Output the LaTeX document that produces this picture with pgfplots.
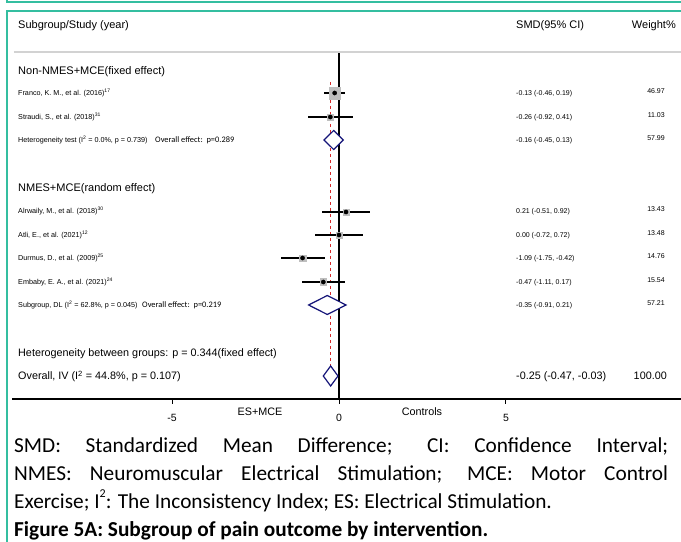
\documentclass[border=0pt]{standalone}
\usepackage{pgfplots}
\pgfplotsset{compat=1.18}
\usepackage{pgfplotstable}
\usepackage{fontspec}
\setmainfont{Liberation Sans}
\newfontfamily\calibri{Carlito}
\definecolor{frameteal}{RGB}{52,190,160}
\definecolor{sqgray}{RGB}{190,190,190}
\definecolor{dnavy}{RGB}{20,20,120}
\definecolor{dred}{RGB}{215,40,40}

% y = 399 - pixel row ; x = SMD
\pgfplotstableread{
y    smd    lo     hi     w
306  -0.13  -0.46  0.19   46.97
282  -0.26  -0.92  0.41   11.03
187   0.21  -0.51  0.92   13.43
164   0.00  -0.72  0.72   13.48
141  -1.09  -1.75  -0.42  14.76
117  -0.47  -1.11  0.17   15.54
}\studies

\newcommand{\hd}{\fontsize{11}{13}\selectfont}
\newcommand{\sm}{\fontsize{7.2}{9}\selectfont}
\newcommand{\nm}{\fontsize{7}{9}\selectfont}
\newcommand{\bt}{\fontsize{10.8}{13}\selectfont}
\newcommand{\capf}{\calibri\fontsize{21.3}{28}\selectfont}

\begin{document}
\begin{tikzpicture}
\begin{axis}[
  scale only axis, width=669pt, height=347pt,
  xmin=-9.790, xmax=10.240, ymin=0, ymax=347,
  axis x line*=bottom, axis y line=none,
  xtick={-5,0,5}, xticklabels={-5,0,5},
  tick align=outside, major tick length=5pt,
  tick style={black, line width=1pt},
  x axis line style={black, line width=1.5pt},
  xticklabel style={font=\fontsize{10.5}{12}\selectfont, anchor=base, yshift=-18pt},
  ytick=\empty, clip=false,
]
% zero line
\addplot[black, line width=1.1pt] coordinates {(0,0) (0,347)};
% overall effect line
\addplot[dred, line width=0.8pt, dash pattern=on 3pt off 3pt] coordinates {(-0.25,317) (-0.25,12)};
% weight squares
\addplot[only marks, mark=square*, scatter,
  scatter/use mapped color={draw=sqgray, fill=sqgray},
  visualization depends on={0.85*sqrt(\thisrow{w}) \as \msz},
  scatter/@pre marker code/.append style={/tikz/mark size=\msz}]
  table[x=smd, y=y] {\studies};
% CIs and point estimates
\addplot[black, only marks, mark=*, mark size=2.1pt,
  error bars/.cd, x dir=both, x explicit, error mark=none,
  error bar style={line width=1.3pt, black}]
  table[x=smd, y=y, x error minus expr=\thisrow{smd}-\thisrow{lo},
        x error plus expr=\thisrow{hi}-\thisrow{smd}] {\studies};
% diamonds
\addplot[dnavy, line width=1.2pt, fill=white] coordinates {(-0.45,259) (-0.16,268.5) (0.13,259) (-0.16,249.5)} -- cycle;
\addplot[dnavy, line width=1.2pt, fill=white] coordinates {(-0.91,94) (-0.35,103.5) (0.21,94) (-0.35,84.5)} -- cycle;
\addplot[dnavy, line width=1.2pt, fill=white] coordinates {(-0.47,23) (-0.25,33) (-0.03,23) (-0.25,13)} -- cycle;

% frame and header rule
\draw[frameteal, line width=2pt] (axis cs:-9.940,399) -- (axis cs:-9.940,397) -- (axis cs:10.240,397);
\draw[frameteal, line width=2pt] (axis cs:10.240,388) -- (axis cs:-9.940,388) -- (axis cs:-9.940,-143);
\draw[gray!35, line width=2pt] (axis cs:-9.731,347) -- (axis cs:10.240,347);

% header
\node[anchor=base west, inner sep=0, font=\hd] at (axis cs:-9.611,371) {Subgroup/Study (year)};
\node[anchor=base west, inner sep=0, font=\hd] at (axis cs:5.299,371) {SMD(95\% CI)};
\node[anchor=base east, inner sep=0, font=\hd] at (axis cs:10.090,371) {Weight\%};

% group 1
\node[anchor=base west, inner sep=0, font=\hd] at (axis cs:-9.611,324) {Non-NMES+MCE(fixed effect)};
\node[anchor=base west, inner sep=0, font=\sm] at (axis cs:-9.611,303.4) {Franco, K. M., et al. (2016)\textsuperscript{17}};
\node[anchor=base west, inner sep=0, font=\sm] at (axis cs:-9.611,279.4) {Straudi, S., et al. (2018)\textsuperscript{31}};
\node[anchor=base west, inner sep=0, font=\sm] at (axis cs:-9.611,256.4) {Heterogeneity test (I\textsuperscript{2} = 0.0\%, p = 0.739)};
\node[anchor=base west, inner sep=0, font=\calibri\fontsize{8.4}{10}\selectfont] at (axis cs:-5.509,256.4) {Overall effect:~~p=0.289};

% group 2
\node[anchor=base west, inner sep=0, font=\hd] at (axis cs:-9.611,207) {NMES+MCE(random effect)};
\node[anchor=base west, inner sep=0, font=\sm] at (axis cs:-9.611,185.4) {Alrwaily, M., et al. (2018)\textsuperscript{30}};
\node[anchor=base west, inner sep=0, font=\sm] at (axis cs:-9.611,161.4) {Atli, E., et al. (2021)\textsuperscript{12}};
\node[anchor=base west, inner sep=0, font=\sm] at (axis cs:-9.611,138.4) {Durmus, D., et al. (2009)\textsuperscript{25}};
\node[anchor=base west, inner sep=0, font=\sm] at (axis cs:-9.611,114.4) {Embaby, E. A., et al. (2021)\textsuperscript{24}};
\node[anchor=base west, inner sep=0, font=\sm] at (axis cs:-9.611,91.4) {Subgroup, DL (I\textsuperscript{2} = 62.8\%, p = 0.045)};
\node[anchor=base west, inner sep=0, font=\calibri\fontsize{8.4}{10}\selectfont] at (axis cs:-5.898,91.4) {Overall effect:~~p=0.219};

% bottom rows
\node[anchor=base west, inner sep=0, font=\bt] at (axis cs:-9.611,42) {Heterogeneity between groups: p = 0.344(fixed effect)};
\node[anchor=base west, inner sep=0, font=\bt] at (axis cs:-9.611,19) {Overall, IV (I\textsuperscript{2} = 44.8\%, p = 0.107)};

% SMD column
\node[anchor=base west, inner sep=0, font=\nm] at (axis cs:5.299,303.4) {-0.13 (-0.46, 0.19)};
\node[anchor=base west, inner sep=0, font=\nm] at (axis cs:5.299,279.4) {-0.26 (-0.92, 0.41)};
\node[anchor=base west, inner sep=0, font=\nm] at (axis cs:5.299,256.4) {-0.16 (-0.45, 0.13)};
\node[anchor=base west, inner sep=0, font=\nm] at (axis cs:5.299,185.4) {0.21 (-0.51, 0.92)};
\node[anchor=base west, inner sep=0, font=\nm] at (axis cs:5.299,161.4) {0.00 (-0.72, 0.72)};
\node[anchor=base west, inner sep=0, font=\nm] at (axis cs:5.299,138.4) {-1.09 (-1.75, -0.42)};
\node[anchor=base west, inner sep=0, font=\nm] at (axis cs:5.299,114.4) {-0.47 (-1.11, 0.17)};
\node[anchor=base west, inner sep=0, font=\nm] at (axis cs:5.299,91.4) {-0.35 (-0.91, 0.21)};
\node[anchor=base west, inner sep=0, font=\bt] at (axis cs:5.299,19) {-0.25 (-0.47, -0.03)};

% weight column
\node[anchor=base east, inner sep=0, font=\nm] at (axis cs:9.760,305.4) {46.97};
\node[anchor=base east, inner sep=0, font=\nm] at (axis cs:9.760,281.4) {11.03};
\node[anchor=base east, inner sep=0, font=\nm] at (axis cs:9.760,258.4) {57.99};
\node[anchor=base east, inner sep=0, font=\nm] at (axis cs:9.760,187.4) {13.43};
\node[anchor=base east, inner sep=0, font=\nm] at (axis cs:9.760,163.4) {13.48};
\node[anchor=base east, inner sep=0, font=\nm] at (axis cs:9.760,140.4) {14.76};
\node[anchor=base east, inner sep=0, font=\nm] at (axis cs:9.760,116.4) {15.54};
\node[anchor=base east, inner sep=0, font=\nm] at (axis cs:9.760,93.4) {57.21};
\node[anchor=base east, inner sep=0, font=\bt] at (axis cs:9.820,19) {100.00};

% axis side labels
\node[anchor=base, inner sep=0, font=\bt] at (axis cs:-2.365,-17) {ES+MCE};
\node[anchor=base, inner sep=0, font=\bt] at (axis cs:2.485,-17) {Controls};

% caption
\node[anchor=base west, inner sep=0, font=\capf] at (axis cs:-9.731,-54) {\makebox[654pt][s]{SMD: Standardized Mean Difference; CI: Confidence Interval;}};
\node[anchor=base west, inner sep=0, font=\capf] at (axis cs:-9.731,-82) {\makebox[654pt][s]{NMES: Neuromuscular Electrical Stimulation; MCE: Motor Control}};
\node[anchor=base west, inner sep=0, font=\capf] at (axis cs:-9.731,-110) {Exercise; I\raisebox{0.55em}{\fontsize{12}{12}\selectfont 2}: The Inconsistency Index; ES: Electrical Stimulation.};
\node[anchor=base west, inner sep=0, font=\capf\bfseries] at (axis cs:-9.731,-138) {Figure 5A: Subgroup of pain outcome by intervention.};

\coordinate (BL) at (axis cs:-10.150,-143);
\coordinate (TR) at (axis cs:10.240,399);
\end{axis}
\pgfresetboundingbox
\useasboundingbox (BL) rectangle (TR);
\end{tikzpicture}
\end{document}
